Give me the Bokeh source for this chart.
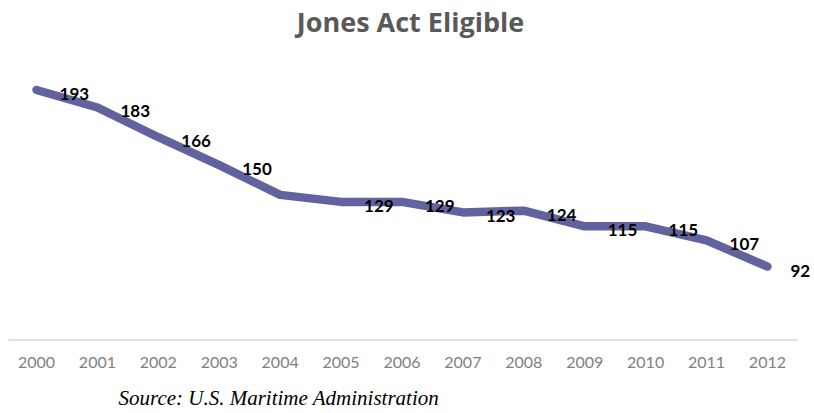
from bokeh.plotting import figure
from bokeh.models import FixedTicker, Range1d, Title, ColumnDataSource
from bokeh.core.properties import value
from bokeh.embed import file_html
from bokeh.resources import INLINE

years = [2000, 2001, 2002, 2003, 2004, 2005, 2006, 2007, 2008, 2009, 2010, 2011, 2012]
vessels = [193, 183, 166, 150, 133, 129, 129, 123, 124, 115, 115, 107, 92]
label_text = ["193", "183", "166", "150", "", "129", "129", "123", "124", "115", "115", "107", "92"]
axis_floor = 50

src = ColumnDataSource(dict(x=years, y=vessels, t=label_text))

p = figure(frame_width=804, frame_height=304, output_backend="svg", toolbar_location=None,
           x_range=Range1d(1999.54, 2012.74), y_range=Range1d(48, 221.89),
           min_border_left=8, min_border_right=0, min_border_top=39, min_border_bottom=0)
p.outline_line_color = None
p.xgrid.visible = False
p.ygrid.visible = False
p.yaxis.visible = False

p.title.text = "Jones Act Eligible"
p.title.align = "center"
p.title.text_font = "Open Sans"
p.title.text_font_size = "27px"
p.title.text_font_style = "bold"
p.title.text_color = "#595959"
p.title.standoff = 0

xa = p.xaxis[0]
xa.ticker = FixedTicker(ticks=years)
xa.axis_line_color = None
xa.major_tick_line_color = None
xa.minor_tick_line_color = None
xa.major_tick_out = 0
xa.major_label_standoff = 13
xa.major_label_text_font = "Lato"
xa.major_label_text_font_size = "16px"
xa.major_label_text_color = "#7f7f7f"

# category-axis baseline spanning the year bins
p.segment(x0=[years[0] - 0.5], y0=[axis_floor], x1=[years[-1] + 0.5], y1=[axis_floor],
          line_color="#d9d9d9", line_width=1.5)

p.line("x", "y", source=src, line_color="#62629e", line_width=8.5,
       line_cap="round", line_join="round")

p.text("x", "y", text="t", source=src, x_offset=23, y_offset=4,
       text_align="left", text_baseline="middle",
       text_font=value("Lato"), text_font_style="bold", text_font_size="17px",
       text_color="#000000")

p.add_layout(Title(text="Source: U.S. Maritime Administration", align="left", offset=110,
                   text_font="Liberation Serif", text_font_style="italic",
                   text_font_size="21px", text_color="#000000", standoff=26), "below")

open("out.html", "w").write(file_html(p, INLINE))
